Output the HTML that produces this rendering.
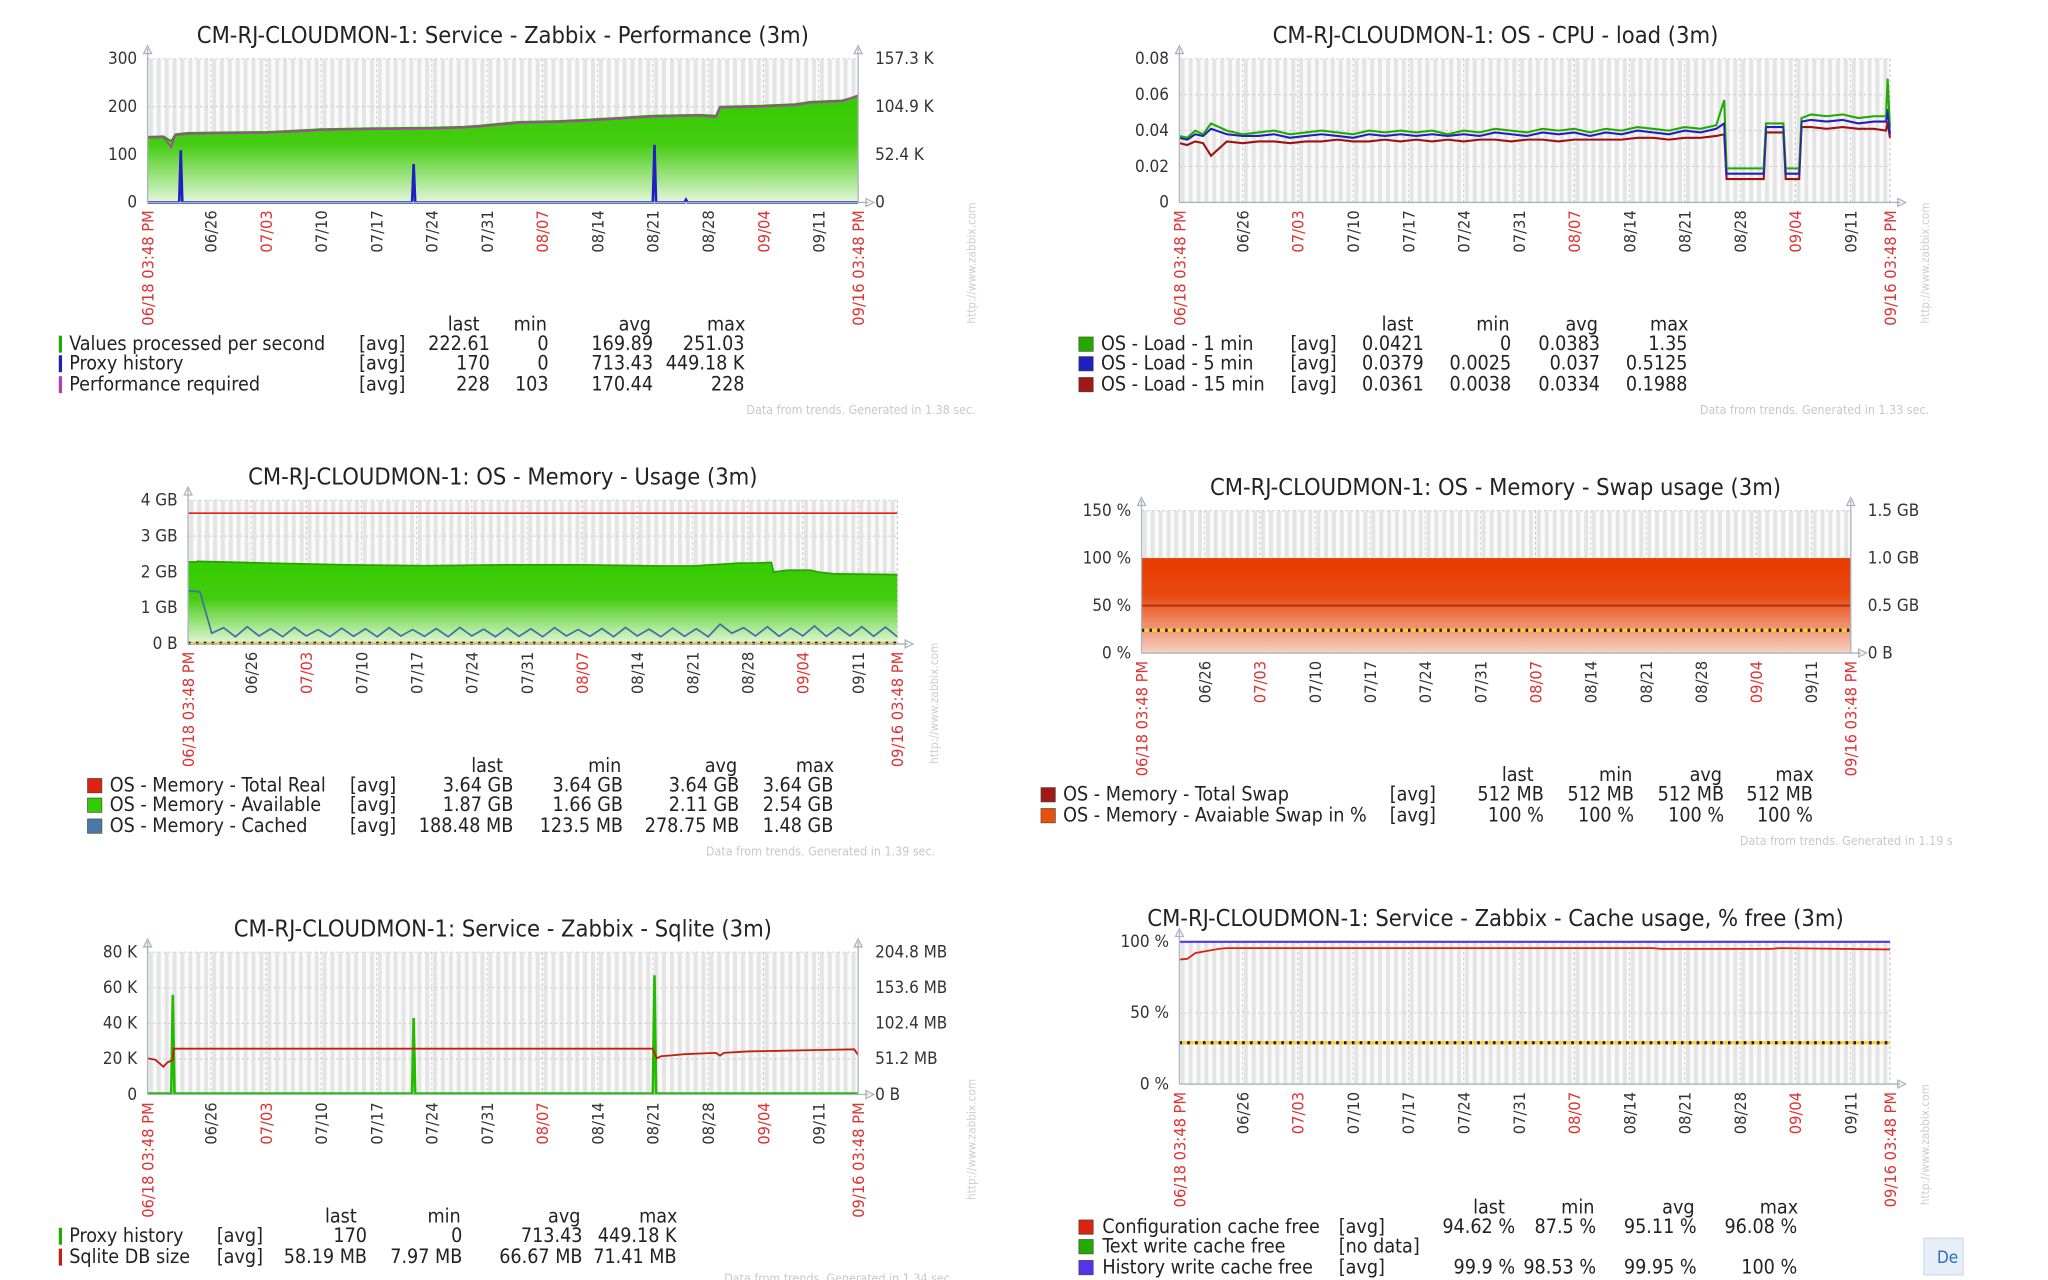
<!DOCTYPE html>
<html><head><meta charset="utf-8"><style>
html,body{margin:0;padding:0;background:#fff;width:2048px;height:1280px;overflow:hidden}
svg{display:block}
text{font-family:"DejaVu Sans Condensed","DejaVu Sans","Liberation Sans",sans-serif}
</style></head><body>
<svg id="root" width="2048" height="1280" viewBox="0 0 1568 980" xmlns="http://www.w3.org/2000/svg">
<defs>
<linearGradient id="gGreen" x1="0" y1="0" x2="0" y2="1"><stop offset="0" stop-color="#33cc00"/><stop offset="0.45" stop-color="#44cc11"/><stop offset="1" stop-color="#e4f6da"/></linearGradient>
<linearGradient id="gOrange" x1="0" y1="0" x2="0" y2="1"><stop offset="0" stop-color="#e83a00"/><stop offset="0.4" stop-color="#e84a10"/><stop offset="1" stop-color="#f6d2c2"/></linearGradient>
</defs>
</svg>
<script>
// ---------- shared time axis ----------
const tickLabels = ['06/18 03:48 PM','06/26','07/03','07/10','07/17','07/24','07/31','08/07','08/14','08/21','08/28','09/04','09/11','09/16 03:48 PM'];
const tickDays = [0,8,15,22,29,36,43,50,57,64,71,78,85,90];
const tickRed = [true,false,true,false,false,false,false,true,false,false,false,true,false,true];

// ---------- panel 1: performance ----------
const perfDays = [0,2,3,3.5,5,8,15,20,22,29,36,40,42,47,52,55,60,64,70,72,72.5,78,82,84,88,90];
const perfVals = [137,138,128,142,145,146,147,151,153,155,156,158,160,168,170,172,177,181,183,181,200,202,205,210,213,222];
const perfReq  = [135,136,115,140,143,144,145,149,151,153,154,156,158,166,168,170,175,179,181,178,198,200,203,208,211,224];
const proxyDays = [0,4,4.2,4.4,33.5,33.7,33.9,64,64.2,64.4,68,68.2,68.4,90];
const proxyK    = [0,0,57,0,0,42,0,0,63,0,0,3,0,0];
const perfLeftTicks = [0,100,200,300];
const perfRightTicks = ['0','52.4 K','104.9 K','157.3 K'];

// ---------- panel 2: cpu ----------
const cpuDays = [0,1,2,3,4,6,8,10,12,14,16,18,20,22,24,26,28,30,32,34,36,38,40,42,44,46,48,50,52,54,56,58,60,62,64,66,68,69,69.3,74,74.3,76.5,76.8,78.5,78.8,80,82,84,86,88,89.5,89.7,90];
const load1  = [0.037,0.036,0.040,0.038,0.044,0.040,0.038,0.039,0.040,0.038,0.039,0.040,0.039,0.038,0.040,0.039,0.040,0.039,0.040,0.038,0.040,0.039,0.041,0.040,0.039,0.041,0.040,0.041,0.039,0.041,0.040,0.042,0.041,0.040,0.042,0.041,0.043,0.057,0.019,0.019,0.044,0.044,0.019,0.019,0.047,0.049,0.048,0.049,0.047,0.048,0.048,0.069,0.042];
const load5  = [0.036,0.035,0.038,0.037,0.041,0.038,0.037,0.037,0.038,0.036,0.037,0.038,0.037,0.036,0.038,0.037,0.038,0.037,0.038,0.037,0.038,0.037,0.039,0.038,0.037,0.039,0.038,0.039,0.037,0.039,0.038,0.040,0.039,0.038,0.040,0.039,0.041,0.044,0.016,0.016,0.042,0.042,0.016,0.016,0.045,0.046,0.045,0.046,0.044,0.045,0.045,0.052,0.038];
const load15 = [0.033,0.032,0.034,0.033,0.026,0.034,0.033,0.034,0.034,0.033,0.034,0.034,0.035,0.034,0.034,0.035,0.034,0.035,0.034,0.035,0.034,0.035,0.035,0.034,0.035,0.035,0.034,0.035,0.035,0.035,0.035,0.036,0.036,0.035,0.036,0.036,0.037,0.038,0.013,0.013,0.039,0.039,0.013,0.013,0.042,0.042,0.041,0.042,0.041,0.041,0.040,0.045,0.036];
const cpuTicks = [0,0.02,0.04,0.06,0.08];

// ---------- panel 3: memory ----------
const memTotalDays = [0,90];
const memTotalVals = [3.64,3.64];
const availDays = [0,1,1.2,10,20,30,40,50,60,64,68,70,72,74,74.3,76,79,80,82,90];
const availVals = [2.28,2.28,2.3,2.25,2.2,2.18,2.2,2.2,2.17,2.17,2.22,2.25,2.25,2.27,2.0,2.05,2.05,2.0,1.95,1.93];
const cachedStep = 1.5;
const cachedVals = [1.48,1.45,0.30,0.45,0.20,0.48,0.22,0.42,0.20,0.46,0.22,0.40,0.20,0.44,0.21,0.42,0.20,0.45,0.22,0.40,0.21,0.43,0.20,0.46,0.22,0.41,0.20,0.44,0.21,0.42,0.20,0.45,0.22,0.40,0.21,0.43,0.20,0.46,0.22,0.41,0.20,0.44,0.21,0.42,0.20,0.55,0.30,0.45,0.22,0.48,0.21,0.44,0.22,0.50,0.21,0.46,0.22,0.48,0.21,0.47,0.20];
const memTicks = ['0 B','1 GB','2 GB','3 GB','4 GB'];

// ---------- panel 4: swap ----------
const swapDays = [0,90];
const swapAvail = [100,100];
const swapTotalGB = [0.5,0.5];
const swapLeftTicks = ['0 %','50 %','100 %','150 %'];
const swapRightTicks = ['0 B','0.5 GB','1.0 GB','1.5 GB'];

// ---------- panel 5: sqlite ----------
const sqProxyDays = [0,3,3.2,3.4,33.5,33.7,33.9,64,64.2,64.4,90];
const sqProxyK    = [0.5,0.5,56,0.5,0.5,43,0.5,0.5,67,0.5,0.5];
const dbDays = [0,1,2,2.5,3.2,3.3,64,64.5,65,66,68,72,72.5,73,76,80,85,89.5,90];
const dbVals = [52,50,40,46,50,66,66,52,55,56,58,60,56,60,62,63,64,65,57];
const sqLeftTicks = ['0','20 K','40 K','60 K','80 K'];
const sqRightTicks = ['0 B','51.2 MB','102.4 MB','153.6 MB','204.8 MB'];

// ---------- panel 6: cache ----------
const cfgDays = [0,1,2,3,5,6,60,61,75,76,90];
const cfgVals = [87.5,88,92,93,95,95.5,95.5,95,95,95.5,94.6];
const histDays = [0,90];
const histVals = [99.9,99.9];
const cacheTicks = ['0 %','50 %','100 %'];

const NS='http://www.w3.org/2000/svg';
const root=document.getElementById('root');
function mk(tag,attrs,parent){const e=document.createElementNS(NS,tag);for(const k in attrs)e.setAttribute(k,attrs[k]);(parent||root).appendChild(e);return e;}
function txt(s,attrs,parent){const e=mk('text',attrs,parent);e.textContent=s;return e;}

function panel(c){
  const g=mk('g',{});
  
  
  const X=d=>c.x0+d/90*(c.x1-c.x0);
  c.X=X;
  const bg=mk('rect',{x:c.x0,y:c.y0,width:c.x1-c.x0,height:c.y1-c.y0,fill:'#fafafa'},g);
  
  
  for(let d=0;d<90;d++){
    mk('rect',{x:X(d)+1,y:c.y0,width:3,height:c.y1-c.y0,fill:'#e4e4e4'},g);
  }
  const n=c.leftTicks.length;
  for(let i=0;i<n;i++){
    const y=c.y1-i/(n-1)*(c.y1-c.y0);
    mk('line',{x1:c.x0,x2:c.x1,y1:y,y2:y,stroke:'#cfcfcf','stroke-dasharray':'2,2','stroke-width':0.8},g);
    const t=txt(c.leftTicks[i],{x:c.x0-8,y:y+4,'font-size':13,fill:'#333','text-anchor':'end'},g);
    
    
    if(c.rightTicks){
      const r=txt(c.rightTicks[i],{x:c.x1+13,y:y+4,'font-size':13,fill:'#333'},g);
      
      
    }
  }
  tickDays.forEach((d,i)=>{
    mk('line',{x1:X(d),x2:X(d),y1:c.y0,y2:c.y1,stroke:tickRed[i]?'#c0c0c0':'#cfcfcf','stroke-dasharray':'2,2','stroke-width':0.8},g);
    const tx=X(d)+4.5, ty=c.y1+6;
    const t=txt(tickLabels[i],{x:tx,y:ty,'font-size':12.5,fill:tickRed[i]?'#dd3333':'#333','text-anchor':'end',transform:`rotate(-90 ${tx} ${ty})`,'font-family':'DejaVu Sans, sans-serif'},g);
    
    
  });
  c.g=g;
  c.draw&&c.draw(c);
  mk('line',{x1:c.x0,x2:c.x0,y1:c.y0-8,y2:c.y1,stroke:'#aab4c0','stroke-width':1},g);
  mk('line',{x1:c.x0,x2:c.x1+8,y1:c.y1,y2:c.y1,stroke:'#aab4c0','stroke-width':1},g);
  mk('path',{d:`M${c.x0-3} ${c.y0-4} L${c.x0} ${c.y0-10} L${c.x0+3} ${c.y0-4}Z`,fill:'none',stroke:'#aab4c0'},g);
  mk('path',{d:`M${c.x1+6} ${c.y1-3} L${c.x1+12} ${c.y1} L${c.x1+6} ${c.y1+3}Z`,fill:'none',stroke:'#aab4c0'},g);
  if(c.rightTicks){
    mk('line',{x1:c.x1,x2:c.x1,y1:c.y0-8,y2:c.y1,stroke:'#aab4c0'},g);
    mk('path',{d:`M${c.x1-3} ${c.y0-4} L${c.x1} ${c.y0-10} L${c.x1+3} ${c.y0-4}Z`,fill:'none',stroke:'#aab4c0'},g);
  }
  const ti=txt(c.title,{x:c.tx,y:c.ty,'font-size':18,fill:'#222','text-anchor':'middle'},g);
  
  
  const L=c.legend;
  ['last','min','avg','max'].forEach((h,i)=>{
    const t=txt(h,{x:L.cols[i]-(i==0?20:14),y:L.hy,'font-size':15,fill:'#222','text-anchor':'middle'},g);
    
    
  });
  L.rows.forEach((r,k)=>{
    const y=L.ys[k];
    const sw=L.bar?mk('rect',{x:L.sx,y:y-11,width:2.5,height:13,fill:r.color},g):mk('rect',{x:L.sx,y:y-10,width:11,height:11,fill:r.color,stroke:'#444','stroke-width':0.5},g);
    
    
    const t=txt(r.label,{x:L.nx,y:y,'font-size':15,fill:'#222'},g);
    
    
    txt(r.fn,{x:L.fx,y:y,'font-size':15,fill:'#222'},g);
    r.v.forEach((v,i)=>{ if(v!=='') txt(v,{x:L.cols[i],y:y,'font-size':15,fill:'#222','text-anchor':'end'},g); });
  });
  const f=txt(c.footer,{x:c.fx,y:c.fy,'font-size':9.5,fill:'#c8c8c8','text-anchor':'end'},g);
  
  
  if(c.wx){
    const w=txt('http://www.zabbix.com',{x:c.wx,y:c.wy,'font-size':9,fill:'#cccccc','text-anchor':'end',transform:`rotate(-90 ${c.wx} ${c.wy})`},g);
    
    
  }
}
function line(c,days,vals,Y,color,w,name,dash){
  let d='';days.forEach((dd,i)=>{d+=(i?'L':'M')+c.X(dd).toFixed(1)+' '+Y(vals[i]).toFixed(1)+' ';});
  const p=mk('path',{d:d,fill:'none',stroke:color,'stroke-width':w||1.3},c.g);
  if(dash)p.setAttribute('stroke-dasharray',dash);
  
  
  return p;
}
function area(c,days,vals,Y,fill,name){
  let d='M'+c.X(days[0])+' '+c.y1+' ';
  days.forEach((dd,i)=>{d+='L'+c.X(dd).toFixed(1)+' '+Y(vals[i]).toFixed(1)+' ';});
  d+='L'+c.X(days[days.length-1])+' '+c.y1+'Z';
  const p=mk('path',{d:d,fill:fill},c.g);
  
  
}
function dotted(c,v,Y,name){
  const y=Y(v);
  mk('line',{x1:c.x0,x2:c.x1,y1:y,y2:y,stroke:'#ffcc33','stroke-width':2.5},c.g);
  const l=mk('line',{x1:c.x0,x2:c.x1,y1:y,y2:y,stroke:'#222','stroke-width':2.5,'stroke-dasharray':'2,4'},c.g);
  
  
}

panel({name:'performance-chart',x0:113,x1:657,y0:45,y1:155,title:'CM-RJ-CLOUDMON-1: Service - Zabbix - Performance (3m)',tx:385,ty:33,
 leftTicks:perfLeftTicks.map(String),rightTicks:perfRightTicks,
 footer:'Data from trends. Generated in 1.38 sec.',fx:747,fy:317,wx:747,wy:155,
 draw:c=>{const Y=v=>c.y1-v/300*(c.y1-c.y0);const Y2=v=>c.y1-v/157.3*(c.y1-c.y0);
  area(c,perfDays,perfVals,Y,'url(#gGreen)','values-processed-area');
  line(c,perfDays,perfVals,Y,'#2aa000',1.5,'values-processed-line');
  line(c,perfDays,perfReq,Y,'#b040b0',1.3,'performance-required-line');
  line(c,proxyDays,proxyK,Y2,'#2020c0',2,'proxy-history-line');},
 legend:{hy:253,ys:[268,283,299],sx:45,nx:53,fx:275,bar:true,cols:[375,420,500,570],rows:[
  {color:'#22aa00',label:'Values processed per second',fn:'[avg]',v:['222.61','0','169.89','251.03']},
  {color:'#2020c0',label:'Proxy history',fn:'[avg]',v:['170','0','713.43','449.18 K']},
  {color:'#b040b0',label:'Performance required',fn:'[avg]',v:['228','103','170.44','228']}]}});

panel({name:'cpu-load-chart',x0:903,x1:1447,y0:45,y1:155,title:'CM-RJ-CLOUDMON-1: OS - CPU - load (3m)',tx:1145,ty:33,
 leftTicks:cpuTicks.map(v=>v===0?'0':v.toFixed(2)),
 footer:'Data from trends. Generated in 1.33 sec.',fx:1477,fy:317,wx:1477,wy:155,
 draw:c=>{const Y=v=>c.y1-v/0.08*(c.y1-c.y0);
  line(c,cpuDays,load15,Y,'#a01010',1.6,'load-15-line');
  line(c,cpuDays,load5,Y,'#2020c0',1.6,'load-5-line');
  line(c,cpuDays,load1,Y,'#22aa00',1.6,'load-1-line');
  line(c,cpuDays,load5,Y,'#2020c0',1,'load-5-line-top');},
 legend:{hy:253,ys:[268,283,299],sx:826,nx:843,fx:988,cols:[1090,1157,1225,1292],rows:[
  {color:'#22aa00',label:'OS - Load - 1 min',fn:'[avg]',v:['0.0421','0','0.0383','1.35']},
  {color:'#2020c0',label:'OS - Load - 5 min',fn:'[avg]',v:['0.0379','0.0025','0.037','0.5125']},
  {color:'#a01818',label:'OS - Load - 15 min',fn:'[avg]',v:['0.0361','0.0038','0.0334','0.1988']}]}});

panel({name:'memory-usage-chart',x0:144,x1:687,y0:383,y1:493,title:'CM-RJ-CLOUDMON-1: OS - Memory - Usage (3m)',tx:385,ty:371,
 leftTicks:memTicks,
 footer:'Data from trends. Generated in 1.39 sec.',fx:716,fy:655,wx:718,wy:492,
 draw:c=>{const Y=v=>c.y1-v/4*(c.y1-c.y0);
  area(c,availDays,availVals,Y,'url(#gGreen)','available-area');
  line(c,availDays,availVals,Y,'#2aa000',1.3,'available-line');
  const cd=cachedVals.map((v,i)=>i*cachedStep);
  line(c,cd,cachedVals,Y,'#4070a0',1.3,'cached-line');
  line(c,memTotalDays,memTotalVals,Y,'#dd2211',1.3,'total-real-line');
  dotted(c,0.02,Y,'memory-trigger-line');},
 legend:{hy:591,ys:[606,621,637],sx:67,nx:84,fx:268,cols:[393,477,566,638],rows:[
  {color:'#dd2211',label:'OS - Memory - Total Real',fn:'[avg]',v:['3.64 GB','3.64 GB','3.64 GB','3.64 GB']},
  {color:'#33cc00',label:'OS - Memory - Available',fn:'[avg]',v:['1.87 GB','1.66 GB','2.11 GB','2.54 GB']},
  {color:'#4a78a8',label:'OS - Memory - Cached',fn:'[avg]',v:['188.48 MB','123.5 MB','278.75 MB','1.48 GB']}]}});

panel({name:'swap-usage-chart',x0:874,x1:1417,y0:391,y1:500,title:'CM-RJ-CLOUDMON-1: OS - Memory - Swap usage (3m)',tx:1145,ty:379,
 leftTicks:swapLeftTicks,rightTicks:swapRightTicks,
 footer:'Data from trends. Generated in 1.19 s',fx:1495,fy:647,
 draw:c=>{const Y=v=>c.y1-v/150*(c.y1-c.y0);const Y2=v=>c.y1-v/1.5*(c.y1-c.y0);
  area(c,swapDays,swapAvail,Y,'url(#gOrange)','available-swap-area');
  line(c,swapDays,swapTotalGB,Y2,'#b02a10',1.3,'total-swap-line');
  dotted(c,24,Y,'swap-trigger-line');},
 legend:{hy:598,ys:[613,629],sx:797,nx:814,fx:1064,cols:[1182,1251,1320,1388],rows:[
  {color:'#a01818',label:'OS - Memory - Total Swap',fn:'[avg]',v:['512 MB','512 MB','512 MB','512 MB']},
  {color:'#e85010',label:'OS - Memory - Avaiable Swap in %',fn:'[avg]',v:['100 %','100 %','100 %','100 %']}]}});

panel({name:'sqlite-chart',x0:113,x1:657,y0:729,y1:838,title:'CM-RJ-CLOUDMON-1: Service - Zabbix - Sqlite (3m)',tx:385,ty:717,
 leftTicks:sqLeftTicks,rightTicks:sqRightTicks,
 footer:'Data from trends. Generated in 1.34 sec.',fx:730,fy:982,wx:747,wy:826,
 draw:c=>{const Y=v=>c.y1-v/80*(c.y1-c.y0);const Y2=v=>c.y1-v/204.8*(c.y1-c.y0);
  line(c,sqProxyDays,sqProxyK,Y,'#22bb00',2,'proxy-history-line');
  line(c,dbDays,dbVals,Y2,'#c02010',1.4,'sqlite-db-size-line');},
 legend:{hy:936,ys:[951,967],sx:45,nx:53,fx:166,bar:true,cols:[281,354,446,518],rows:[
  {color:'#22aa00',label:'Proxy history',fn:'[avg]',v:['170','0','713.43','449.18 K']},
  {color:'#c02010',label:'Sqlite DB size',fn:'[avg]',v:['58.19 MB','7.97 MB','66.67 MB','71.41 MB']}]}});

panel({name:'cache-usage-chart',x0:903,x1:1447,y0:721,y1:830,title:'CM-RJ-CLOUDMON-1: Service - Zabbix - Cache usage, % free (3m)',tx:1145,ty:709,
 leftTicks:cacheTicks,
 footer:'',fx:1477,fy:982,wx:1477,wy:830,
 draw:c=>{const Y=v=>c.y1-v/100*(c.y1-c.y0);
  line(c,histDays,histVals,Y,'#5533ee',1.6,'history-write-cache-line');
  line(c,cfgDays,cfgVals,Y,'#dd2211',1.4,'configuration-cache-line');
  dotted(c,29,Y,'cache-trigger-line');},
 legend:{hy:929,ys:[944,959,975],sx:826,nx:844,fx:1025,cols:[1160,1222,1299,1376],rows:[
  {color:'#dd2211',label:'Configuration cache free',fn:'[avg]',v:['94.62 %','87.5 %','95.11 %','96.08 %']},
  {color:'#22aa00',label:'Text write cache free',fn:'[no data]',v:['','','','']},
  {color:'#5533ee',label:'History write cache free',fn:'[avg]',v:['99.9 %','98.53 %','99.95 %','100 %']}]}});

const btn=mk('g',{});


mk('rect',{x:1473,y:948,width:30,height:28,fill:'#e6eef8',stroke:'#d0dceb'},btn);
txt('De',{x:1483,y:967,'font-size':13,fill:'#2a6ac0'},btn);
</script>
</body></html>
